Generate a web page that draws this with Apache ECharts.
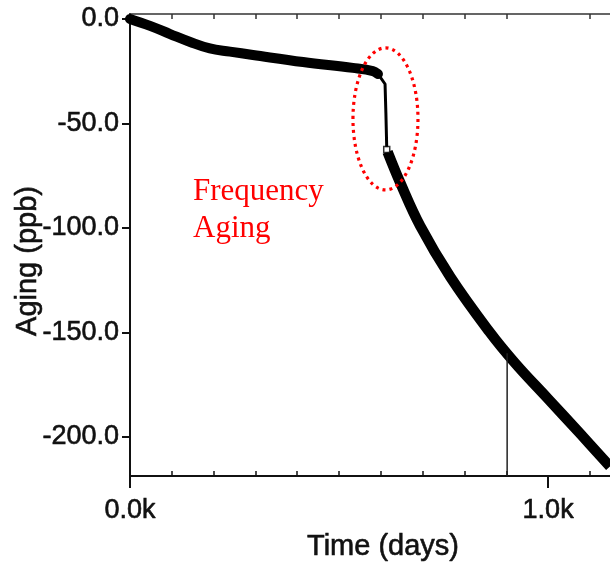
<!DOCTYPE html>
<html><head><meta charset="utf-8">
<script src="https://cdn.jsdelivr.net/npm/echarts@6/dist/echarts.min.js"></script>
<style>html,body{margin:0;padding:0;background:#fff}#c{width:610px;height:567px}</style>
</head><body><div id="c"></div>
<script>
// ---- data ----
const xTickMajor = [0, 1000];
const xTickMinor = [100, 200, 300, 400, 500, 600, 700, 800, 900, 1100];
const yTicks = [0, -50, -100, -150, -200];

const earlyDays  = [0, 48, 96, 144, 191, 239, 294, 414, 533, 581, 593];
const earlyAging = [0, -3.3, -7.2, -11.0, -14.1, -15.6, -17.2, -20.6, -23.4, -24.9, -26.3];

const dropDays  = [593, 610, 612, 614];
const dropAging = [-26.3, -31.1, -45, -61.5];

const lateDays  = [616, 646, 694, 766, 859, 921, 998, 1077, 1148];
const lateAging = [-63.6, -78.2, -99.0, -123.4, -149.5, -164.7, -181.4, -198.5, -214.2];

const markerDays  = [614];
const markerAging = [-62.5];

const refLineDays  = [902, 902];
const refLineAging = [-218.7, -160];

const annotationLines = ['Frequency', 'Aging'];
const ellipseCenter = [611, -47.8];

const X_MIN = 0, X_MAX = 1148, Y_MIN = -218.7, Y_MAX = 2.4;

const zip = (a, b) => a.map((v, i) => [v, b[i]]);

const chart = echarts.init(document.getElementById('c'), null, {renderer: 'canvas'});
const axisFont = 'Liberation Sans, Arial, sans-serif';
const black = '#111';
const heavy = {textBorderColor: '#111', textBorderWidth: 0.6};

chart.setOption({
  animation: false,
  backgroundColor: '#fff',
  grid: {left: 130, top: 14, right: 0, bottom: 91, containLabel: false, outerBoundsMode: 'none'},
  xAxis: [
    {
      type: 'value', min: X_MIN, max: X_MAX, position: 'bottom',
      axisLine: {show: true, onZero: false, lineStyle: {color: black, width: 2}},
      axisTick: {show: true, customValues: xTickMajor, length: 12, lineStyle: {color: black, width: 2}},
      axisLabel: Object.assign({show: true, customValues: xTickMajor, margin: 21, fontSize: 27, color: black, fontFamily: axisFont,
        formatter: v => (v / 1000).toFixed(1) + 'k'}, heavy),
      splitLine: {show: false},
      name: 'Time (days)', nameLocation: 'middle', nameGap: 56, nameMoveOverlap: false,
      nameTextStyle: Object.assign({fontSize: 29, color: black, fontFamily: axisFont, padding: [0, 0, 0, 26]}, heavy)
    },
    {
      type: 'value', min: X_MIN, max: X_MAX, position: 'bottom',
      axisLine: {show: false, onZero: false},
      axisTick: {show: true, inside: true, customValues: xTickMinor, length: 5, lineStyle: {color: black, width: 1.5}},
      axisLabel: {show: false}, splitLine: {show: false}
    },
    {
      type: 'value', min: X_MIN, max: X_MAX, position: 'top',
      axisLine: {show: true, onZero: false, lineStyle: {color: '#333', width: 1.5}},
      axisTick: {show: true, inside: true, customValues: xTickMinor, length: 5, lineStyle: {color: '#333', width: 1.5}},
      axisLabel: {show: false}, splitLine: {show: false}
    }
  ],
  yAxis: [{
    type: 'value', min: Y_MIN, max: Y_MAX, position: 'left',
    axisLine: {show: true, onZero: false, lineStyle: {color: black, width: 2}},
    axisTick: {show: true, customValues: yTicks, length: 8, lineStyle: {color: black, width: 2}},
    axisLabel: Object.assign({show: true, customValues: yTicks, margin: 11, fontSize: 27, color: black, fontFamily: axisFont,
      formatter: v => v.toFixed(1)}, heavy),
    splitLine: {show: false},
    name: 'Aging (ppb)', nameLocation: 'middle', nameGap: 88, nameMoveOverlap: false,
    nameTextStyle: Object.assign({fontSize: 29, color: black, fontFamily: axisFont, padding: [0, 32, 0, 0]}, heavy)
  }],
  series: [
    {type: 'line', xAxisIndex: 0, data: zip(earlyDays, earlyAging), showSymbol: false, smooth: 0.4,
      lineStyle: {color: '#000', width: 10, cap: 'round', join: 'round'}},
    {type: 'line', xAxisIndex: 0, data: zip(dropDays, dropAging), showSymbol: false,
      lineStyle: {color: '#000', width: 3, join: 'round'}},
    {type: 'line', xAxisIndex: 0, data: zip(lateDays, lateAging), showSymbol: false, smooth: 0.4,
      lineStyle: {color: '#000', width: 10.5, cap: 'butt', join: 'round'}},
    {type: 'line', xAxisIndex: 0, data: zip(refLineDays, refLineAging), showSymbol: false,
      lineStyle: {color: '#222', width: 1.5}},
    {type: 'scatter', xAxisIndex: 0, data: zip(markerDays, markerAging), symbol: 'rect', symbolSize: 6,
      itemStyle: {color: '#fff', borderColor: '#000', borderWidth: 1.5}, z: 5}
  ]
});

const c = chart.convertToPixel({gridIndex: 0}, ellipseCenter);
chart.setOption({
  graphic: [
    {type: 'ellipse', shape: {cx: c[0], cy: c[1], rx: 32.5, ry: 71},
      style: {fill: null, stroke: '#ff0000', lineWidth: 3.2, lineDash: [3, 4]}, z: 10},
    {type: 'text', left: 193, top: 176, style: {text: annotationLines[0], fill: '#ff0000', font: '31px "Liberation Serif", "Times New Roman", serif'}},
    {type: 'text', left: 193, top: 213, style: {text: annotationLines[1], fill: '#ff0000', font: '31px "Liberation Serif", "Times New Roman", serif'}}
  ]
});
</script></body></html>
